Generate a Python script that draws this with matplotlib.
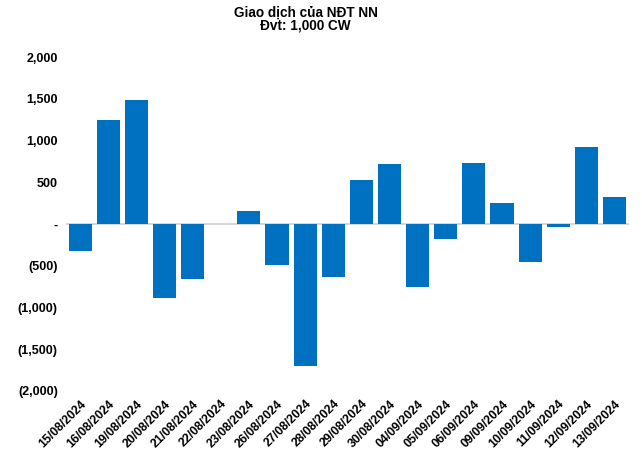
import matplotlib.pyplot as plt
from matplotlib.ticker import FuncFormatter

# du lieu
dates = ["15/08/2024", "16/08/2024", "19/08/2024", "20/08/2024", "21/08/2024",
         "22/08/2024", "23/08/2024", "26/08/2024", "27/08/2024", "28/08/2024",
         "29/08/2024", "30/08/2024", "04/09/2024", "05/09/2024", "06/09/2024",
         "09/09/2024", "10/09/2024", "11/09/2024", "12/09/2024", "13/09/2024"]
values = [-320, 1248, 1488, -885, -656,
          0, 156, -488, -1701, -632,
          528, 724, -752, -176, 736,
          252, -456, -36, 924, 324]
y_ticks = [-2000, -1500, -1000, -500, 0, 500, 1000, 1500, 2000]

BLUE = "#0070C0"
plt.rcParams['font.family'] = ['Liberation Sans', 'DejaVu Sans']


def acct(v, pos=None):
    if v == 0:
        return "-"
    if v < 0:
        return f"({abs(v):,.0f})"
    return f"{v:,.0f}"


fig = plt.figure(figsize=(6.42, 4.53), dpi=100)
ax = fig.add_axes([0.103, 0.137, 0.876, 0.737])

x = range(len(dates))
ax.bar(x, values, width=0.82, color=BLUE, zorder=2)
ax.axhline(0, color="#d0d0d0", lw=1.2, zorder=1)

ax.set_ylim(-2000, 2000)
ax.set_xlim(-0.5, len(dates) - 0.5)
ax.set_yticks(y_ticks)
ax.yaxis.set_major_formatter(FuncFormatter(acct))
ax.set_xticks(list(x))
ax.set_xticklabels(dates, rotation=45, ha="right", rotation_mode="anchor",
                   fontsize=8.8, fontweight="bold")
for lbl in ax.get_yticklabels():
    lbl.set_fontweight("bold")
    lbl.set_fontsize(9)
ax.tick_params(axis="both", length=0)
ax.tick_params(axis="y", pad=6)
ax.tick_params(axis="x", pad=5)
for s in ax.spines.values():
    s.set_visible(False)

fig.text(0.476, 0.973, "Giao dịch của NĐT NN", ha="center", va="center",
         fontsize=9.8, fontweight="bold")
fig.text(0.476, 0.943, "Đvt: 1,000 CW", ha="center", va="center",
         fontsize=9.8, fontweight="bold")

fig.savefig("out.png", dpi=100)
